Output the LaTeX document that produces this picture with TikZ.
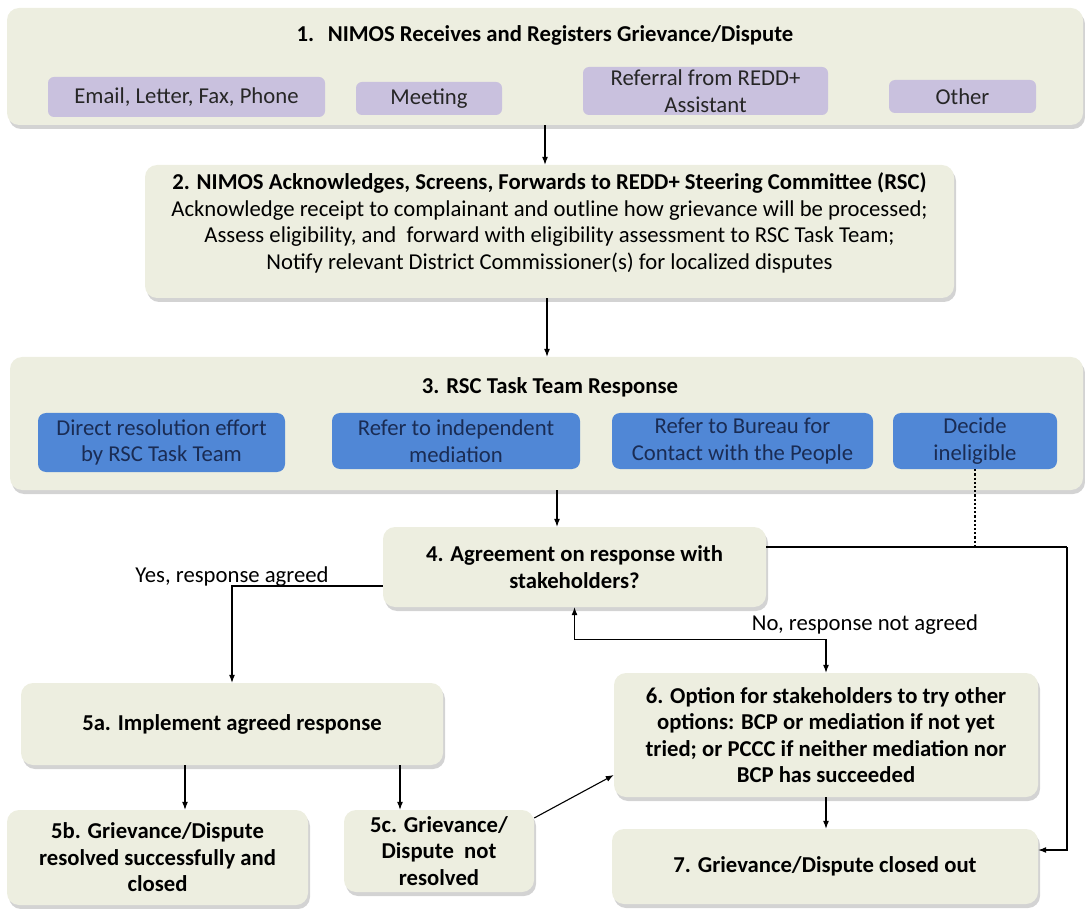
\documentclass[tikz,border=0pt]{standalone}
\usepackage{fontspec}
\setmainfont{Carlito}
\usetikzlibrary{arrows.meta,shadows}
\definecolor{boxbeige}{RGB}{237,238,224}
\definecolor{boxpurple}{RGB}{201,193,222}
\definecolor{boxblue}{RGB}{80,135,214}
\definecolor{textnavy}{RGB}{26,44,84}
\newcommand\flowfont{\fontsize{22.7}{26.5}\selectfont}
\tikzset{
  stepbox/.style={fill=boxbeige, rounded corners=12pt, align=center,
    font=\flowfont\bfseries,
    drop shadow={shadow xshift=2pt, shadow yshift=-4pt, opacity=0.35}},
  srcbox/.style={fill=boxpurple, rounded corners=6pt, align=center, font=\flowfont, text=black!85},
  actbox/.style={fill=boxblue, rounded corners=8pt, align=center, text=textnavy, font=\flowfont},
  flow/.style={-{Latex[length=8pt,width=6pt]}, line width=1.1pt},
}
\begin{document}
\begin{tikzpicture}[x=1pt, y=-1pt, inner sep=0pt]
                \useasboundingbox (0,0) rectangle (1085,909);
                % step 1
                \node[stepbox, minimum width=1076, minimum height=117] (receive) at (545,66.5) {};
                \node[font=\flowfont\bfseries] (receivetitle) at (545,35) {1.\hspace{0.6em}NIMOS Receives and Registers Grievance/Dispute};
                \node[srcbox, minimum width=277, minimum height=40] (email) at (186.5,97) {Email, Letter, Fax, Phone};
                \node[srcbox, minimum width=146, minimum height=33] (meeting) at (429,98.5) {Meeting};
                \node[srcbox, minimum width=245, minimum height=48] (referral) at (705.5,91) {Referral from REDD+\\Assistant};
                \node[srcbox, minimum width=147, minimum height=33] (other) at (962.5,96.5) {Other};

                % step 2
                \node[stepbox, minimum width=809, minimum height=133] (screen) at (549.5,231.5) {};
                \node[align=center, font=\flowfont] (screentext) at (549.5,223) {\textbf{2. NIMOS Acknowledges, Screens, Forwards to REDD+ Steering Committee (RSC)}\\
                  Acknowledge receipt to complainant and outline how grievance will be processed;\\
                  Assess eligibility, and\ \ forward with eligibility assessment to RSC Task Team;\\
                  Notify relevant District Commissioner(s) for localized disputes};

                % step 3
                \node[stepbox, minimum width=1073, minimum height=133] (rsc) at (546.5,423.5) {};
                \node[font=\flowfont\bfseries] (rsctitle) at (550,387) {3. RSC Task Team Response};
                \node[actbox, minimum width=247, minimum height=59] (direct) at (161.5,442.5) {Direct resolution effort\\by RSC Task Team};
                \node[actbox, minimum width=248, minimum height=56] (mediation) at (456,441) {Refer to independent\\mediation};
                \node[actbox, minimum width=261, minimum height=56] (bureau) at (742.5,441) {Refer to Bureau for\\Contact with the People};
                \node[actbox, minimum width=164, minimum height=56] (inelig) at (975,441) {Decide\\ineligible};

                % steps 4 to 7
                \node[stepbox, minimum width=383, minimum height=80] (agree) at (574.5,567) {4. Agreement on response with\\stakeholders?};
                \node[stepbox, minimum width=422, minimum height=82] (implement) at (232,724) {5a. Implement agreed response};
                \node[stepbox, minimum width=301, minimum height=95] (resolved) at (157.5,857.5) {5b. Grievance/Dispute\\resolved successfully and\\closed};
                \node[stepbox, minimum width=190, minimum height=82] (notres) at (439,851) {5c. Grievance/\\Dispute\ \ not\\resolved};
                \node[stepbox, minimum width=424, minimum height=124] (option) at (826,735) {6. Option for stakeholders to try other\\options: BCP or mediation if not yet\\tried; or PCCC if neither mediation nor\\BCP has succeeded};
                \node[stepbox, minimum width=426, minimum height=75] (closed) at (825,866.5) {7. Grievance/Dispute closed out};

                \node[font=\flowfont] (yes) at (232,577) {Yes, response agreed};
                \node[font=\flowfont] (no) at (865,625) {No, response not agreed};
                \coordinate (rc) at (1067,547);

                % connectors
                \draw[flow] (receive.south) -- (receive.south |- screen.north);
                \draw[flow] ([xshift=-2.5pt]screen.south) -- ([xshift=-2.5pt]screen.south |- rsc.north);
                \draw[flow] ([xshift=-17.5pt]agree.north |- rsc.south) -- ([xshift=-17.5pt]agree.north);
                \draw[flow] ([yshift=-19pt]agree.west) -| (implement.north);
                \draw[flow, {Latex[length=8pt,width=6pt]}-{Latex[length=8pt,width=6pt]}] (agree.south) -- ++(0,32) -| (option.north);
                \draw[line width=1.1pt] ([yshift=20pt]agree.east) -- (rc);
                \draw[flow] (rc) |- ([yshift=16.5pt]closed.east);
                \draw[line width=2.2pt, dotted] (inelig.south) -- (inelig.south |- rc);
                \draw[flow] ([xshift=-47pt]implement.south) -- ([xshift=-47pt]implement.south |- resolved.north);
                \draw[flow] ([xshift=168pt]implement.south) -- ([xshift=168pt]implement.south |- notres.north);
                \draw[flow] ([yshift=33pt]notres.east) -- ([yshift=-40pt]option.west);
                \draw[flow] (option.south) -- (option.south |- closed.north);
            \end{tikzpicture}
\end{document}
